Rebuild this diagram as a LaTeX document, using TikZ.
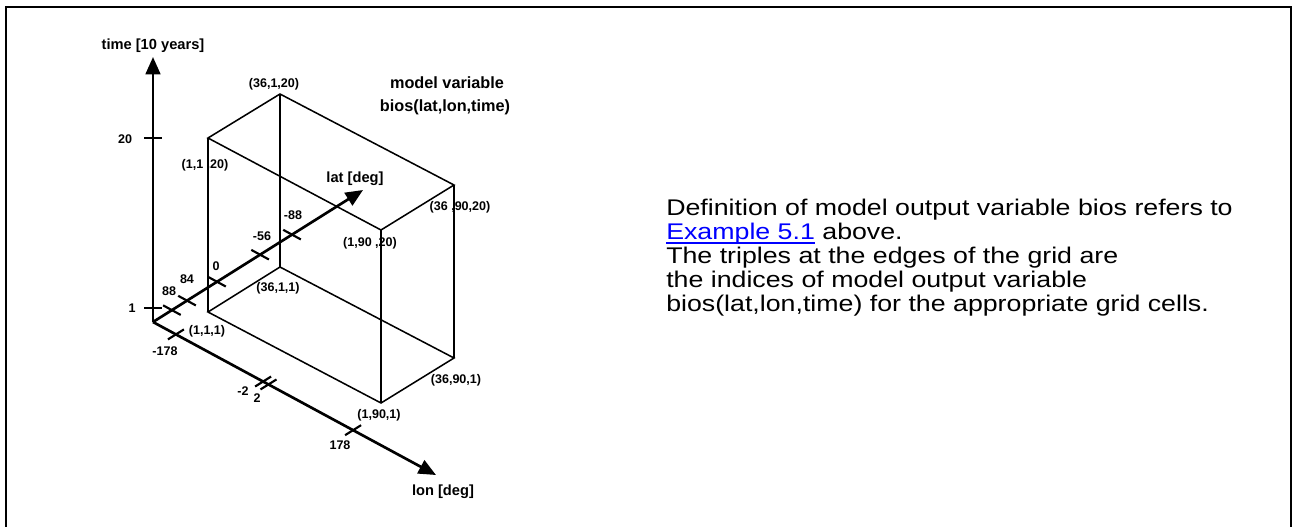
\documentclass[tikz,border=0pt]{standalone}
\usepackage{fontspec}
\setmainfont{Liberation Sans}
\newfontfamily\widefont[FakeStretch=1.18]{Liberation Sans}
\usetikzlibrary{arrows.meta,calc}
\definecolor{linkblue}{RGB}{0,0,255}
\newcommand\ulinktext[1]{\setbox0\hbox{#1}\rlap{\rule[-3.4pt]{\wd0}{0.8pt}}\box0}
\begin{document}
\begin{tikzpicture}[x=0.75pt,y=-0.75pt,
  axis/.style={line width=2pt,-{Triangle[length=13pt,width=11pt]}},
  tmark/.style={line width=2pt},
  lmark/.style={line width=1.6pt},
  edge/.style={line width=1.15pt},
  lbl/.style={font=\bfseries\fontsize{9.4}{11}\selectfont,inner sep=0pt},
  albl/.style={font=\bfseries\fontsize{11}{13}\selectfont,inner sep=0pt},
  mlbl/.style={font=\bfseries\fontsize{12.2}{14.6}\selectfont,inner sep=0pt},
  rtext/.style={font=\widefont\fontsize{17}{20}\selectfont,inner sep=0pt,anchor=base west},
]
\useasboundingbox (0,0) rectangle (1292,526);
\draw[line width=1.5pt] (6,540) -- (6,7) -- (1291,7) -- (1291,540);

% axes
\coordinate (O) at (153,322);
\coordinate (T) at (153,57);
\coordinate (LA) at (363,190);
\coordinate (LO) at (436,475);

% box corners
\coordinate (A20) at (208,138);
\coordinate (B20) at (280,94);
\coordinate (C20) at (454,185);
\coordinate (D20) at (381,230);
\coordinate (A1) at (208,312);
\coordinate (B1) at (280,267);
\coordinate (C1) at (454,358);
\coordinate (D1) at (381,403);

\draw[edge] (A20) -- (B20) -- (C20) -- (D20) -- cycle;
\draw[edge] (A1) -- (B1) -- (C1) -- (D1) -- cycle;
\draw[edge] (A20) -- (A1);
\draw[edge] (B20) -- (B1);
\draw[edge] (C20) -- (C1);
\draw[edge] (D20) -- (D1);

\draw[axis] (O) -- (T);
\draw[axis] (O) -- (LA);
\draw[axis] (O) -- (LO);

% time ticks
\coordinate (t20) at (153,138);
\coordinate (t1) at (153,308);
\draw[tmark] ($(t20)+(-9,0)$) -- ($(t20)+(9,0)$);
\draw[tmark] ($(t1)+(-9,0)$) -- ($(t1)+(9,0)$);

% lat ticks (parallel to lon)
\path (O) -- (LA)
  coordinate[pos=0.09] (l88)
  coordinate[pos=0.162] (l84)
  coordinate[pos=0.305] (l0)
  coordinate[pos=0.51] (l56)
  coordinate[pos=0.662] (l88b);
\foreach \p in {l88,l84,l0,l56,l88b}
  \draw[lmark] ($(\p)+(-8.8,-4.8)$) -- ($(\p)+(8.8,4.8)$);

% lon ticks (parallel to lat)
\path (O) -- (LO)
  coordinate[pos=0.081] (m178)
  coordinate[pos=0.389] (m2)
  coordinate[pos=0.408] (p2)
  coordinate[pos=0.707] (p178);
\foreach \p in {m178,m2,p2,p178}
  \draw[lmark] ($(\p)+(-8,5)$) -- ($(\p)+(8,-5)$);

% axis labels
\node[albl] (tl) at (153,46) {time [10 years]};
\node[albl] (latl) at (355,179) {lat [deg]};
\node[albl] (lonl) at (443,492) {lon [deg]};

% tick labels
\node[lbl] (n20) at (125,139) {20};
\node[lbl] (n1) at (132,308) {1};
\node[lbl] (n88) at (169,291) {88};
\node[lbl] (n84) at (187,279) {84};
\node[lbl] (n0) at (216,266) {0};
\node[lbl] (n56) at (262,236) {-56};
\node[lbl] (n88b) at (293,215) {-88};
\node[lbl] (nm178) at (165,351) {-178};
\node[lbl] (nm2) at (243,391) {-2};
\node[lbl] (np2) at (257,398) {2};
\node[lbl] (np178) at (340,445) {178};

% corner labels
\node[lbl] (cA1) at (207,331) {(1,1,1)};
\node[lbl] (cB1) at (278,288) {(36,1,1)};
\node[lbl] (cD1) at (379,415) {(1,90,1)};
\node[lbl] (cC1) at (456,380) {(36,90,1)};
\node[lbl] (cB20) at (274,84) {(36,1,20)};
\node[lbl] (cA20) at (205,165) {(1,1 ,20)};
\node[lbl] (cD20) at (370,243) {(1,90 ,20)};
\node[lbl] (cC20) at (460,207) {(36 ,90,20)};

\node[mlbl] (mv1) at (447,83) {model variable};
\node[mlbl] (mv2) at (445,107) {bios(lat,lon,time)};

% right text
\node[rtext] (r1) at (666,215) {Definition of model output variable bios refers to};
\node[rtext] (r2) at (666,239) {\textcolor{linkblue}{\ulinktext{Example 5.1}} above.};
\node[rtext] (r3) at (666,263) {The triples at the edges of the grid are};
\node[rtext] (r4) at (666,287) {the indices of model output variable};
\node[rtext] (r5) at (666,311) {bios(lat,lon,time) for the appropriate grid cells.};
\end{tikzpicture}
\end{document}
